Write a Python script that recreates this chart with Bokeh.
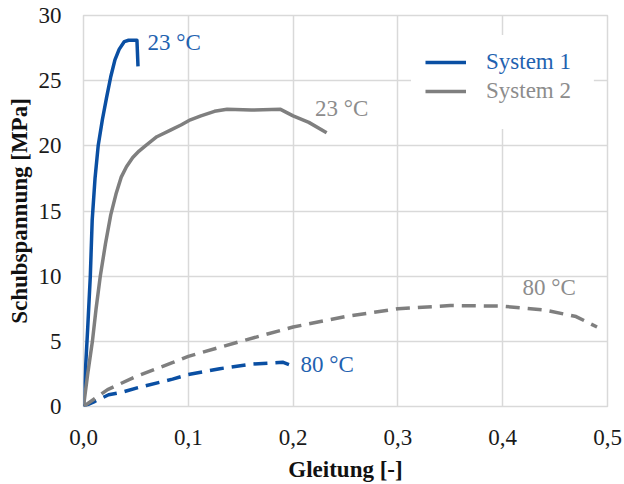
from bokeh.plotting import figure
from bokeh.models import (ColumnDataSource, Legend, LegendItem, BoxAnnotation,
                          CustomJSTickFormatter, FixedTicker, Range1d)
from bokeh.core.properties import value
from bokeh.embed import file_html
from bokeh.resources import INLINE

# ---- data ----
s1_23_x = [0.0, 0.002, 0.004, 0.0065, 0.0083, 0.011, 0.014, 0.018, 0.022, 0.026, 0.030, 0.034,
           0.039, 0.043, 0.051, 0.052]
s1_23_y = [0.0, 3.0, 6.0, 10.0, 14.3, 17.5, 20.0, 22.0, 23.7, 25.3, 26.6, 27.4,
           28.0, 28.1, 28.1, 26.1]

s2_23_x = [0.0, 0.004, 0.0085, 0.012, 0.016, 0.021, 0.026, 0.031, 0.036, 0.041, 0.047, 0.053,
           0.059, 0.070, 0.083, 0.093, 0.102, 0.112, 0.125, 0.137, 0.160, 0.188, 0.200, 0.215,
           0.232]
s2_23_y = [0.0, 2.5, 5.0, 7.5, 10.0, 12.5, 14.7, 16.3, 17.6, 18.4, 19.1, 19.6,
           20.0, 20.7, 21.2, 21.6, 22.0, 22.3, 22.65, 22.8, 22.75, 22.8, 22.3, 21.8,
           21.0]

s1_80_x = [0.0, 0.011, 0.024, 0.037, 0.052, 0.085, 0.10, 0.13, 0.16, 0.19, 0.20]
s1_80_y = [0.0, 0.4, 0.9, 1.1, 1.45, 2.1, 2.45, 2.9, 3.25, 3.4, 3.1]

s2_80_x = [0.0, 0.023, 0.05, 0.086, 0.10, 0.15, 0.20, 0.25, 0.30, 0.35, 0.40, 0.44, 0.47, 0.49]
s2_80_y = [0.0, 1.3, 2.3, 3.4, 3.85, 5.0, 6.1, 6.9, 7.5, 7.75, 7.7, 7.4, 6.9, 6.1]

series_names = ["System 1", "System 2"]
label_texts = ["23 °C", "23 °C", "80 °C", "80 °C"]
label_x = [0.061, 0.221, 0.207, 0.419]
label_y = [27.9, 22.9, 3.2, 9.1]

x_ticks = [0.0, 0.1, 0.2, 0.3, 0.4, 0.5]
y_ticks = [0, 5, 10, 15, 20, 25, 30]

BLUE = "#0a4fa3"
GRAY = "#7f7f7f"
BLUE_TXT = "#1f62b0"
GRAY_TXT = "#8c8c8c"
FONT = "Liberation Serif"
FS = "23px"

p = figure(width=624, height=484, output_backend="svg", toolbar_location=None,
           x_range=Range1d(0, 0.5), y_range=Range1d(0, 30),
           min_border_left=83, min_border_right=17, min_border_top=15, min_border_bottom=77)

p.background_fill_color = "white"
p.border_fill_color = "white"
p.outline_line_color = "#d9d9d9"
p.outline_line_width = 1.5

for ax in (p.xaxis[0], p.yaxis[0]):
    ax.axis_line_color = None
    ax.major_tick_line_color = None
    ax.minor_tick_line_color = None
    ax.major_label_text_font = FONT
    ax.major_label_text_font_size = FS
    ax.major_label_text_color = "#1a1a1a"
    ax.axis_label_text_font = FONT
    ax.axis_label_text_font_size = FS
    ax.axis_label_text_font_style = "bold"
    ax.axis_label_text_color = "#111111"

p.xaxis.ticker = FixedTicker(ticks=x_ticks)
p.yaxis.ticker = FixedTicker(ticks=y_ticks)
p.xaxis.formatter = CustomJSTickFormatter(code="return tick.toFixed(1).replace('.', ',');")
p.xaxis.major_label_standoff = 17
p.yaxis.major_label_standoff = 16
p.xaxis.axis_label = "Gleitung [-]"
p.yaxis.axis_label = "Schubspannung [MPa]"
p.xaxis.axis_label_standoff = 9
p.yaxis.axis_label_standoff = 4

p.xgrid.grid_line_color = "#d9d9d9"
p.ygrid.grid_line_color = "#d9d9d9"
p.xgrid.grid_line_width = 1.5
p.ygrid.grid_line_width = 1.5

r1 = p.line(s1_23_x, s1_23_y, line_color=BLUE, line_width=3.5, line_join="round")
r2 = p.line(s2_23_x, s2_23_y, line_color=GRAY, line_width=3.5, line_join="round")
p.line(s1_80_x, s1_80_y, line_color=BLUE, line_width=3.5, line_dash="14 8")
p.line(s2_80_x, s2_80_y, line_color=GRAY, line_width=3.5, line_dash="14 8")

lab_src = ColumnDataSource(dict(x=label_x, y=label_y, t=label_texts,
                                c=[BLUE_TXT, GRAY_TXT, BLUE_TXT, GRAY_TXT]))
p.text(x="x", y="y", text="t", source=lab_src, text_color="c",
       text_font=value(FONT), text_font_size=FS,
       text_align="left", text_baseline="middle")

# white legend background
box = BoxAnnotation(left=0.3125, right=0.487, bottom=21.3, top=28.5,
                    fill_color="white", fill_alpha=1.0, line_color=None)
p.add_layout(box)

leg1 = Legend(items=[LegendItem(label=series_names[0], renderers=[r1])],
              location=(342, 331), label_text_color=BLUE_TXT)
leg2 = Legend(items=[LegendItem(label=series_names[1], renderers=[r2])],
              location=(342, 302), label_text_color=GRAY_TXT)
for lg in (leg1, leg2):
    lg.label_text_font = FONT
    lg.label_text_font_size = FS
    lg.background_fill_alpha = 0
    lg.border_line_color = None
    lg.padding = 0
    lg.margin = 0
    lg.glyph_width = 41
    lg.glyph_height = 24
    lg.label_height = 24
    lg.label_standoff = 20
    p.add_layout(lg, "center")

open("out.html", "w").write(file_html(p, INLINE))
